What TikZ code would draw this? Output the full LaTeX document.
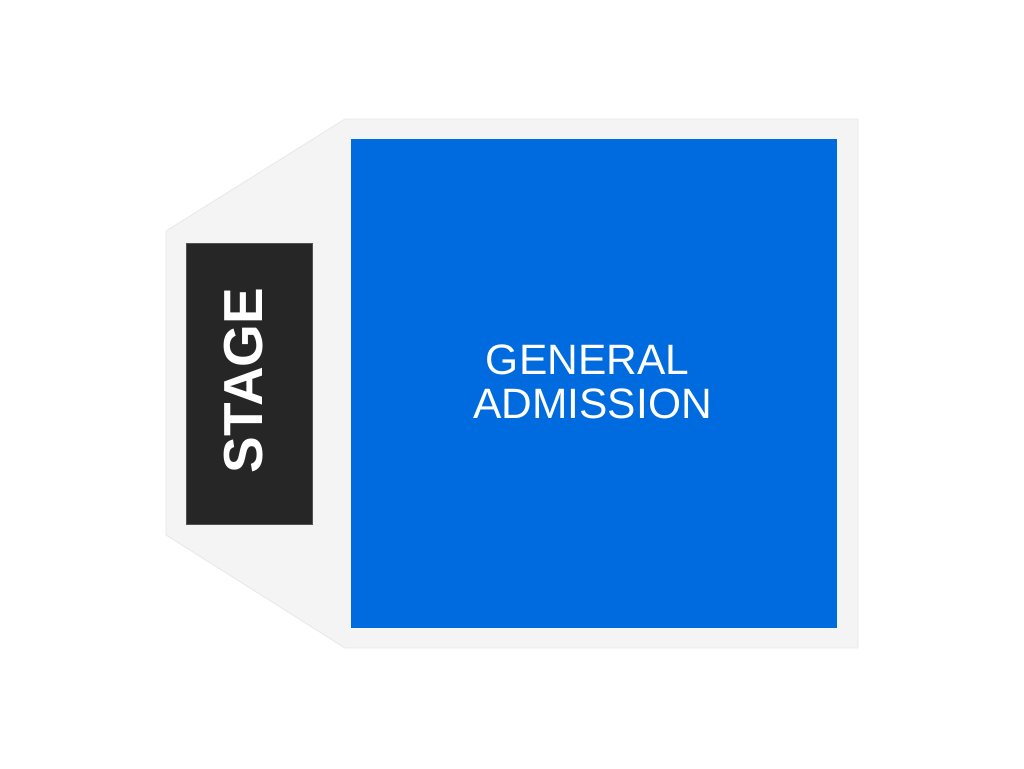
\documentclass[tikz,border=0pt]{standalone}
\usepackage{fontspec}
\setmainfont{Liberation Sans}
\definecolor{floorgray}{HTML}{F4F4F4}
\definecolor{floorline}{HTML}{E8E8E8}
\definecolor{gablue}{HTML}{006BDF}
\definecolor{stagedark}{HTML}{262626}
\begin{document}
\begin{tikzpicture}[x=1pt,y=-1pt,
  floor/.style={fill=floorgray,draw=floorline,line width=0.8pt},
  section/.style={fill=gablue,draw=none},
  stagebox/.style={fill=stagedark,draw=stagedark!80!white,line width=0.6pt},
  galabel/.style={text=white,font=\fontsize{42.5}{42.5}\selectfont,inner sep=0pt,anchor=base},
  stagelabel/.style={text=white,font=\fontsize{55}{55}\selectfont\bfseries,inner sep=0pt,rotate=90}]
\useasboundingbox (0,0) rectangle (1024,768);
\draw[floor] (345,119) -- (858,119) -- (858,648) -- (345,648) -- (166,535) -- (166,231) -- cycle;
\path[section] (351,139) rectangle (837,628);
\path[stagebox] (186,243) rectangle (312,524);
\node[stagelabel] (stage) at (244,380.5) {STAGE};
\node[galabel] (gen) at (587.5,374) {GENERAL};
\node[galabel] (adm) at (592.5,418) {ADMISSION};
\end{tikzpicture}
\end{document}
